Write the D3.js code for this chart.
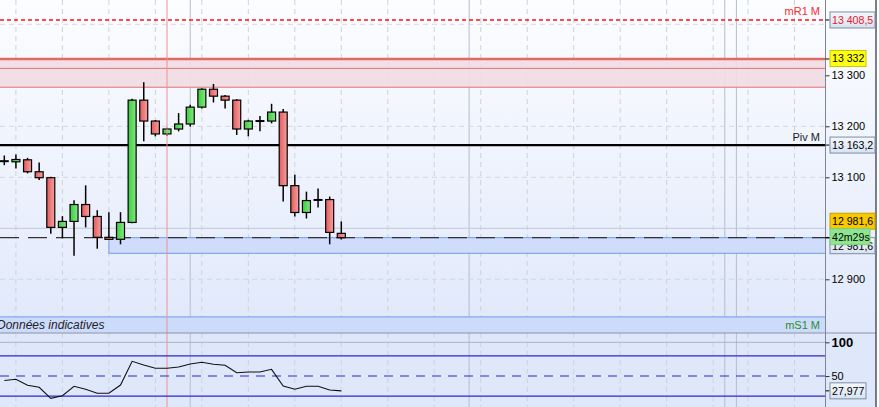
<!DOCTYPE html>
<html>
<head>
<meta charset="utf-8">
<script src="https://cdn.jsdelivr.net/npm/d3@7"></script>
<style>
  body { margin: 0; overflow: hidden; background: #fff; }
  svg { display: block; font-family: "Liberation Sans", Arial, sans-serif; }
</style>
</head>
<body>
<svg id="chart" width="879" height="407"></svg>
<script>
// candles (one every 11.6 px)
const opens  = [13131.6, 13130.4, 13134.3, 13110.9, 13099.2, 13001.8, 13013.5, 13046.6, 13023.2, 12982.3,
                12978.4, 13011.5, 13251.3, 13210.3, 13185.0, 13194.7, 13204.5, 13237.6, 13272.7, 13259.1,
                13251.3, 13194.7, 13210.3, 13210.3, 13227.9, 13083.6, 13031.0, 13055.6, 13056.3, 12990.1];
const highs  = [13142.7, 13144.6, 13138.2, 13129.0, 13101.2, 13023.8, 13055.0, 13084.2, 13035.5, 13031.6,
                13031.6, 13253.8, 13286.4, 13212.3, 13197.3, 13225.9, 13242.1, 13274.7, 13283.0, 13261.6,
                13253.2, 13212.9, 13220.1, 13244.1, 13233.7, 13105.1, 13071.9, 13077.8, 13062.2, 13013.5];
const lows   = [13123.8, 13117.3, 13107.6, 13094.5, 12989.3, 12980.3, 12946.4, 13001.8, 12960.0, 12978.4,
                12968.6, 13010.0, 13170.6, 13180.3, 13181.7, 13190.1, 13199.8, 13234.9, 13246.6, 13234.9,
                13183.0, 13180.3, 13190.1, 13205.7, 13052.4, 13023.2, 13019.3, 13040.7, 12968.6, 12978.0];
const closes = [13131.6, 13134.9, 13110.9, 13099.2, 13001.8, 13013.5, 13046.6, 13023.2, 12982.3, 12978.4,
                13011.5, 13251.3, 13210.3, 13185.0, 13194.7, 13204.5, 13237.6, 13272.7, 13259.1, 13251.3,
                13194.7, 13210.3, 13210.3, 13227.9, 13083.6, 13031.0, 13054.4, 13055.6, 12992.0, 12981.6];

// oscillator in the lower panel
const stoch = [43.3, 45.1, 36.2, 33.2, 16.9, 20.8, 34.7, 30.3, 24.3, 24.3,
               36.6, 71.8, 66.3, 61.4, 61.4, 63.4, 67.8, 70.3, 67.4, 65.9,
               54.9, 55.9, 55.9, 59.9, 35.2, 30.3, 34.7, 34.7, 29.2, 27.977];

const priceTicks = [12900, 13100, 13200, 13300];
const priceGrid = [12900, 13100, 13200, 13300, 13400];
const indTicks = [100, 50];
const indLevels = [80, 20];
const timeGrid = [1, 5, 9, 13, 17, 21, 25, 29, 33, 37, 41, 45, 49, 53, 57, 61, 64, 68];
const sessionLines = [16, 40, 62, 63];
const markLine = 14;

const mR1 = 13408.5, zoneTop = 13332, zoneMid = 13313.6, zoneBottom = 13276.6;
const pivot = 13163.2, last = 12981.6, lastZoneLow = 12951, mS1 = 12826.3;
const lastZoneStart = 9;
const timer = "42m29s";

const fmt = v => {
  const s = String(v).split(".");
  return s[0].replace(/\B(?=(\d{3})+(?!\d))/g, " ") + (s[1] ? "," + s[1] : "");
};

const W = 879, H = 407;
const plotR = 825.5, edge = 876, mainB = 333;

const x = d3.scaleLinear().domain([0, 29]).range([4.3, 341.3]);
const y = d3.scaleLinear().domain([12900, 13300]).range([279.3, 75.3]);
const yi = d3.scaleLinear().domain([0, 100]).range([409.7, 342.3]);

const svg = d3.select("#chart");
const defs = svg.append("defs");

const bg = defs.append("linearGradient").attr("id", "bg").attr("x1", 0).attr("y1", 0).attr("x2", 0).attr("y2", 1);
bg.append("stop").attr("offset", 0).attr("stop-color", "#fcfdff");
bg.append("stop").attr("offset", 1).attr("stop-color", "#e0e8fb");

const gG = defs.append("linearGradient").attr("id", "gG");
gG.append("stop").attr("offset", 0).attr("stop-color", "#3ccc3c");
gG.append("stop").attr("offset", 1).attr("stop-color", "#84e884");
const gR = defs.append("linearGradient").attr("id", "gR");
gR.append("stop").attr("offset", 0).attr("stop-color", "#e45c5c");
gR.append("stop").attr("offset", 1).attr("stop-color", "#f4a0a0");
const gBox = defs.append("linearGradient").attr("id", "gBox").attr("x1", 0).attr("y1", 0).attr("x2", 0).attr("y2", 1);
gBox.append("stop").attr("offset", 0).attr("stop-color", "#f4f7fc");
gBox.append("stop").attr("offset", 1).attr("stop-color", "#d8e2f2");

defs.append("clipPath").attr("id", "clipMain").append("rect")
  .attr("x", 0).attr("y", 0).attr("width", plotR).attr("height", mainB);
defs.append("clipPath").attr("id", "clipInd").append("rect")
  .attr("x", 0).attr("y", mainB).attr("width", plotR).attr("height", H - mainB);

// backgrounds
svg.append("rect").attr("x", 0).attr("y", 0).attr("width", edge).attr("height", mainB).attr("fill", "url(#bg)");
svg.append("rect").attr("x", 0).attr("y", mainB).attr("width", edge).attr("height", H - mainB).attr("fill", "#dfe7fa");

// vertical grid, both panels
svg.append("g").selectAll("line").data(timeGrid).join("line")
  .attr("x1", d => x(d)).attr("x2", d => x(d)).attr("y1", 0).attr("y2", H)
  .attr("stroke", "#cdd2dc").attr("stroke-dasharray", "5,4");
svg.append("g").selectAll("line").data(sessionLines).join("line")
  .attr("x1", d => x(d)).attr("x2", d => x(d)).attr("y1", 0).attr("y2", H)
  .attr("stroke", "#b6bdcc");

const main = svg.append("g").attr("clip-path", "url(#clipMain)");

// horizontal grid
main.selectAll(".hg").data(priceGrid).join("line").attr("class", "hg")
  .attr("x1", 0).attr("x2", plotR).attr("y1", d => y(d)).attr("y2", d => y(d))
  .attr("stroke", "#d4d8e0").attr("stroke-dasharray", "5,4");
main.append("line").attr("x1", 0).attr("x2", plotR).attr("y1", y(13000)).attr("y2", y(13000))
  .attr("stroke", "#c4c9d3");

// resistance zone
main.append("rect").attr("x", 0).attr("width", plotR)
  .attr("y", y(zoneTop)).attr("height", y(zoneBottom) - y(zoneTop)).attr("fill", "#f2dce2").attr("opacity", 0.9);
main.append("line").attr("x1", 0).attr("x2", plotR).attr("y1", y(zoneTop)).attr("y2", y(zoneTop))
  .attr("stroke", "#e06a6a").attr("stroke-width", 2.5);
[zoneMid, zoneBottom].forEach(v => main.append("line").attr("x1", 0).attr("x2", plotR)
  .attr("y1", y(v)).attr("y2", y(v)).attr("stroke", "#e07474"));

// mR1
main.append("line").attr("x1", 0).attr("x2", plotR).attr("y1", y(mR1)).attr("y2", y(mR1))
  .attr("stroke", "#ff1010").attr("stroke-width", 1.5).attr("stroke-dasharray", "4,3");
main.append("text").attr("x", 820).attr("y", y(mR1) - 5).attr("text-anchor", "end")
  .attr("font-size", 11).attr("fill", "#ff2a2a").text("mR1 M");

// last price zone
main.append("rect").attr("x", x(lastZoneStart)).attr("width", plotR - x(lastZoneStart))
  .attr("y", y(last)).attr("height", y(lastZoneLow) - y(last))
  .attr("fill", "#cfdcfb").attr("stroke", "#6f9ce8");

// mS1 band
main.append("rect").attr("x", -1).attr("width", plotR + 2)
  .attr("y", y(mS1)).attr("height", mainB - y(mS1) + 1)
  .attr("fill", "#cddbfb").attr("stroke", "#6f9ce8");
main.append("text").attr("x", -3).attr("y", y(mS1) + 12).attr("font-size", 12)
  .attr("font-style", "italic").attr("fill", "#1e1e2a").text("Données indicatives");
main.append("text").attr("x", 820).attr("y", y(mS1) + 12).attr("text-anchor", "end")
  .attr("font-size", 11).attr("fill", "#2c8c2c").text("mS1 M");

// red marker line
svg.append("line").attr("x1", x(markLine)).attr("x2", x(markLine)).attr("y1", 0).attr("y2", H)
  .attr("stroke", "#e89494");

// pivot
main.append("line").attr("x1", 0).attr("x2", plotR).attr("y1", y(pivot)).attr("y2", y(pivot))
  .attr("stroke", "#000").attr("stroke-width", 2.2);
main.append("text").attr("x", 820).attr("y", y(pivot) - 4).attr("text-anchor", "end")
  .attr("font-size", 11).attr("fill", "#1a1a2a").text("Piv M");

// last price dashed line
main.append("line").attr("x1", 0).attr("x2", plotR).attr("y1", y(last)).attr("y2", y(last))
  .attr("stroke", "#333").attr("stroke-width", 1.3).attr("stroke-dasharray", "19,9");

// candles
const candles = d3.range(opens.length).map(i => ({ i, o: opens[i], h: highs[i], l: lows[i], c: closes[i] }));
const cg = main.append("g").selectAll("g").data(candles).join("g");
cg.append("line")
  .attr("x1", d => x(d.i)).attr("x2", d => x(d.i))
  .attr("y1", d => y(d.h)).attr("y2", d => y(d.l))
  .attr("stroke", "#000").attr("stroke-width", 1.5);
cg.filter(d => d.o !== d.c).append("rect")
  .attr("x", d => x(d.i) - 4).attr("width", 8)
  .attr("y", d => y(Math.max(d.o, d.c)))
  .attr("height", d => Math.max(1.5, Math.abs(y(d.o) - y(d.c))))
  .attr("fill", d => d.c > d.o ? "url(#gG)" : "url(#gR)")
  .attr("stroke", "#000").attr("stroke-width", 1.2);
cg.filter(d => d.o === d.c).append("line")
  .attr("x1", d => x(d.i) - 4.5).attr("x2", d => x(d.i) + 4.5)
  .attr("y1", d => y(d.c)).attr("y2", d => y(d.c))
  .attr("stroke", "#000").attr("stroke-width", 2);

// indicator panel
const ind = svg.append("g").attr("clip-path", "url(#clipInd)");
ind.append("line").attr("x1", 0).attr("x2", plotR).attr("y1", yi(100)).attr("y2", yi(100))
  .attr("stroke", "#aab3c6");
ind.selectAll(".lv").data(indLevels).join("line").attr("class", "lv")
  .attr("x1", 0).attr("x2", plotR).attr("y1", d => yi(d)).attr("y2", d => yi(d))
  .attr("stroke", "#2a2acc").attr("stroke-width", 1.2);
ind.append("line").attr("x1", 0).attr("x2", plotR).attr("y1", yi(50)).attr("y2", yi(50))
  .attr("stroke", "#2a2acc").attr("stroke-width", 1.2).attr("stroke-dasharray", "9,7");
ind.append("path").datum(stoch)
  .attr("d", d3.line().x((d, i) => x(i)).y(d => yi(d)))
  .attr("fill", "none").attr("stroke", "#111").attr("stroke-width", 1.1);

// panel separator and axis
svg.append("line").attr("x1", 0).attr("x2", edge).attr("y1", mainB).attr("y2", mainB).attr("stroke", "#8a94a6");
svg.append("line").attr("x1", plotR).attr("x2", plotR).attr("y1", 0).attr("y2", H).attr("stroke", "#7b8796");
svg.append("line").attr("x1", edge).attr("x2", edge).attr("y1", 0).attr("y2", H).attr("stroke", "#4e5664").attr("stroke-width", 1.5);

const yAxis = d3.axisRight(y).tickValues(priceTicks).tickSize(4).tickPadding(2).tickFormat(fmt);
const ax = svg.append("g").attr("transform", `translate(${plotR},0)`).call(yAxis);
ax.select(".domain").remove();
ax.selectAll("text").attr("font-size", 11).attr("fill", "#000").attr("font-family", "Liberation Sans, Arial, sans-serif");
ax.selectAll("line").attr("stroke", "#333");

const iAxis = d3.axisRight(yi).tickValues(indTicks).tickSize(4).tickPadding(2).tickFormat(d3.format("d"));
const ia = svg.append("g").attr("transform", `translate(${plotR},0)`).call(iAxis);
ia.select(".domain").remove();
ia.selectAll("text").attr("fill", "#000").attr("font-family", "Liberation Sans, Arial, sans-serif")
  .attr("font-weight", d => d === 100 ? "bold" : "normal").attr("font-size", d => d === 100 ? 13 : 11);
ia.selectAll("line").attr("stroke", "#333");

// axis labels in boxes
function tag(cy, text, opt) {
  const g = svg.append("g");
  g.append("line").attr("x1", plotR).attr("x2", plotR + 4).attr("y1", opt.tick).attr("y2", opt.tick).attr("stroke", "#000");
  g.append("rect").attr("x", 830).attr("y", cy - 8).attr("width", opt.w || 45).attr("height", 16)
    .attr("fill", opt.fill || "url(#gBox)").attr("stroke", opt.stroke || "#7d8ea0");
  g.append("text").attr("x", 832).attr("y", cy + 4).attr("font-size", 10.6)
    .attr("fill", opt.color || "#000").text(text);
}
tag(y(mR1), fmt(mR1), { tick: y(mR1), color: "#e8202a" });
tag(y(zoneTop) - 0.5, fmt(zoneTop), { tick: y(zoneTop), fill: "#ffff14", stroke: "#c8c800", w: 36 });
tag(y(pivot), fmt(pivot), { tick: y(pivot) });
tag(yi(stoch[stoch.length - 1]), fmt(stoch[stoch.length - 1]), { tick: yi(stoch[stoch.length - 1]), w: 36 });
tag(y(last) + 8, fmt(last), { tick: y(last) });
tag(y(last) - 16.5, fmt(last), { tick: y(last), fill: "#f8c800", stroke: "#c8a000" });
tag(y(last) - 1, timer, { tick: y(last), fill: "#8fe48f", stroke: "#7ccc7c", w: 40 });
</script>
</body>
</html>
